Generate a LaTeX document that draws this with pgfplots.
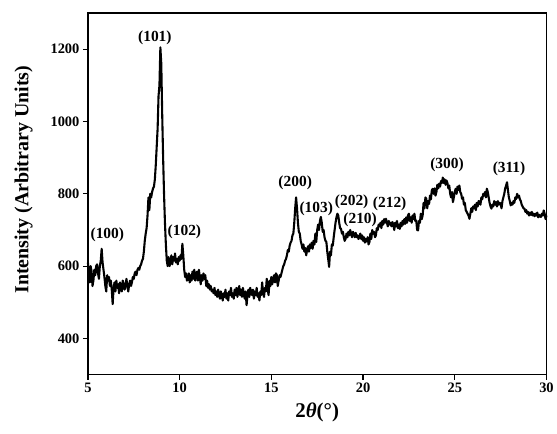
\documentclass[border=0pt]{standalone}
\usepackage{fontspec}
\setmainfont{Liberation Serif}
\usepackage{pgfplots}
\pgfplotsset{compat=1.18}
\pgfplotstableread{
x y
5.00 610
5.05 580
5.10 555
5.15 600
5.20 585
5.25 545
5.30 560
5.35 590
5.40 575
5.45 600
5.50 605
5.55 580
5.60 565
5.65 600
5.70 615
5.75 648
5.80 610
5.85 590
5.90 570
5.95 545
6.00 530
6.05 575
6.10 560
6.15 570
6.20 545
6.25 560
6.30 535
6.35 495
6.40 540
6.45 555
6.50 530
6.55 560
6.60 540
6.65 550
6.70 525
6.75 555
6.80 545
6.85 530
6.90 560
6.95 550
7.00 535
7.05 545
7.10 565
7.15 545
7.20 530
7.25 550
7.30 560
7.35 545
7.40 555
7.45 570
7.50 565
7.55 580
7.60 585
7.65 575
7.70 590
7.75 595
7.80 590
7.85 600
7.90 605
7.95 615
8.00 620
8.05 640
8.10 670
8.15 690
8.20 705
8.25 740
8.30 790
8.35 755
8.40 800
8.45 790
8.50 805
8.55 815
8.60 820
8.65 840
8.70 880
8.75 930
8.80 980
8.85 1070
8.90 1100
8.95 1205
9.00 1160
9.05 1020
9.10 900
9.15 800
9.20 720
9.25 660
9.30 615
9.35 600
9.40 625
9.45 600
9.50 610
9.55 630
9.60 605
9.65 625
9.70 615
9.75 635
9.80 610
9.85 620
9.90 605
9.95 625
10.00 615
10.05 630
10.10 620
10.15 662
10.20 630
10.25 590
10.30 570
10.35 580
10.40 560
10.45 566
10.50 580
10.55 555
10.60 575
10.65 560
10.70 585
10.75 565
10.80 590
10.85 560
10.90 575
10.95 585
11.00 560
11.05 590
11.10 570
11.15 550
11.20 575
11.25 560
11.30 580
11.35 565
11.40 575
11.45 545
11.50 560
11.55 540
11.60 550
11.65 535
11.70 545
11.75 530
11.80 535
11.85 525
11.90 540
11.95 520
12.00 530
12.05 515
12.10 535
12.15 520
12.20 510
12.25 530
12.30 520
12.35 505
12.40 525
12.45 515
12.50 535
12.55 510
12.60 525
12.65 505
12.70 530
12.75 520
12.80 540
12.85 515
12.90 525
12.95 510
13.00 535
13.05 520
13.10 540
13.15 515
13.20 530
13.25 545
13.30 520
13.35 535
13.40 515
13.45 540
13.50 525
13.55 510
13.60 530
13.65 492
13.70 520
13.75 535
13.80 515
13.85 540
13.90 525
13.95 520
14.00 535
14.05 510
14.10 530
14.15 520
14.20 540
14.25 515
14.30 525
14.35 505
14.40 530
14.45 520
14.50 555
14.55 525
14.60 515
14.65 540
14.70 530
14.75 565
14.80 535
14.85 520
14.90 560
14.95 545
15.00 570
15.05 550
15.10 565
15.15 575
15.20 555
15.25 580
15.30 575
15.35 545
15.40 560
15.45 575
15.50 570
15.55 580
15.60 590
15.65 600
15.70 605
15.75 615
15.80 620
15.85 630
15.90 645
15.95 640
16.00 657
16.05 665
16.10 670
16.15 685
16.20 690
16.25 720
16.30 760
16.35 790
16.40 760
16.45 720
16.50 695
16.55 690
16.60 670
16.65 660
16.70 648
16.75 660
16.80 640
16.85 650
16.90 630
16.95 645
17.00 655
17.05 640
17.10 660
17.15 650
17.20 665
17.25 648
17.30 670
17.35 660
17.40 690
17.45 667
17.50 700
17.55 715
17.60 700
17.65 725
17.70 736
17.75 720
17.80 695
17.85 700
17.90 680
17.95 670
18.00 667
18.05 640
18.10 620
18.15 598
18.20 640
18.25 630
18.30 660
18.35 657
18.40 680
18.45 700
18.50 720
18.55 735
18.60 745
18.65 740
18.70 720
18.75 705
18.80 703
18.85 690
18.90 695
18.95 680
19.00 670
19.05 676
19.10 690
19.15 680
19.20 695
19.25 685
19.30 700
19.35 690
19.40 680
19.45 695
19.50 690
19.55 680
19.60 692
19.65 680
19.70 685
19.75 675
19.80 681
19.85 690
19.90 675
19.95 685
20.00 670
20.05 680
20.10 665
20.15 675
20.20 668
20.25 680
20.30 660
20.35 667
20.40 690
20.45 675
20.50 700
20.55 690
20.60 695
20.65 680
20.70 685
20.75 705
20.80 700
20.85 715
20.90 710
20.95 720
21.00 705
21.05 725
21.10 715
21.15 730
21.20 720
21.25 731
21.30 720
21.35 710
21.40 725
21.45 715
21.50 720
21.55 710
21.60 722
21.65 715
21.70 700
21.75 720
21.80 710
21.85 725
21.90 705
21.95 715
22.00 703
22.05 720
22.10 710
22.15 725
22.20 715
22.25 730
22.30 717
22.35 735
22.40 720
22.45 740
22.50 745
22.55 725
22.60 735
22.65 720
22.70 740
22.75 730
22.80 745
22.85 725
22.90 726
22.95 700
23.00 699
23.05 725
23.10 720
23.15 745
23.20 730
23.25 740
23.30 775
23.35 760
23.40 790
23.45 786
23.50 760
23.55 780
23.60 772
23.65 795
23.70 785
23.75 810
23.80 814
23.85 800
23.90 815
23.95 795
24.00 805
24.05 825
24.10 815
24.15 828
24.20 820
24.25 835
24.30 830
24.35 845
24.40 830
24.45 840
24.50 825
24.55 837
24.60 830
24.65 815
24.70 823
24.75 800
24.80 790
24.85 805
24.90 777
24.95 790
25.00 805
25.05 814
25.10 800
25.15 820
25.20 810
25.25 823
25.30 805
25.35 800
25.40 786
25.45 790
25.50 770
25.55 775
25.60 755
25.65 750
25.70 745
25.75 740
25.80 731
25.85 745
25.90 760
25.95 750
26.00 765
26.05 760
26.10 770
26.15 755
26.20 775
26.25 765
26.30 780
26.35 777
26.40 770
26.45 790
26.50 785
26.55 800
26.60 795
26.65 805
26.70 790
26.75 814
26.80 805
26.85 790
26.90 775
26.95 765
27.00 759
27.05 770
27.10 765
27.15 780
27.20 770
27.25 777
27.30 765
27.35 780
27.40 770
27.45 775
27.50 772
27.55 760
27.60 780
27.65 790
27.70 800
27.75 815
27.80 823
27.85 832
27.90 810
27.95 790
28.00 780
28.05 768
28.10 775
28.15 770
28.20 780
28.25 775
28.30 790
28.35 786
28.40 800
28.45 790
28.50 795
28.55 785
28.60 780
28.65 770
28.70 765
28.75 760
28.80 759
28.85 750
28.90 755
28.95 745
29.00 750
29.05 740
29.10 748
29.15 742
29.20 750
29.25 740
29.30 745
29.35 738
29.40 745
29.45 740
29.50 748
29.55 735
29.60 742
29.65 738
29.70 736
29.75 745
29.80 740
29.85 754
29.90 745
29.95 730
30.00 740
}\xrd
\begin{document}
\begin{tikzpicture}[lab/.style={font=\fontsize{15.5}{18}\selectfont\bfseries, inner sep=0pt}]
\begin{axis}[name=ax, scale only axis, width=459bp, height=362bp,
  xmin=5, xmax=30, ymin=300, ymax=1300,
  xtick={5,10,...,30}, ytick={400,600,...,1200},
  tick align=outside, tick pos=left, major tick length=5bp,
  axis line style={line width=1.6pt},
  every tick/.style={line width=1.2pt, black},
  /pgf/number format/assume math mode=true,
  /pgf/number format/1000 sep={},
  tick label style={font=\fontsize{14.5}{17}\selectfont\bfseries},
  xlabel={\bfseries 2\textit{θ}(°)},
  ylabel={\bfseries Intensity (Arbitrary Units)},
  xlabel style={font=\fontsize{21}{24}\selectfont, yshift=-3bp},
  ylabel style={font=\fontsize{20}{23}\selectfont, yshift=11bp, xshift=14bp},
  clip=false,
]
\addplot[black, line width=2.1pt, line join=round] table[x=x,y=y] {\xrd};
\node[lab] at (axis cs:6.06,688) {(100)};
\node[lab] at (axis cs:8.65,1232) {(101)};
\node[lab] at (axis cs:10.26,694) {(102)};
\node[lab] at (axis cs:16.30,830) {(200)};
\node[lab] at (axis cs:17.45,759) {(103)};
\node[lab] at (axis cs:19.38,777) {(202)};
\node[lab] at (axis cs:19.84,728) {(210)};
\node[lab] at (axis cs:21.45,772) {(212)};
\node[lab] at (axis cs:24.58,879) {(300)};
\node[lab] at (axis cs:27.96,869) {(311)};
\end{axis}
\path ([shift={(-88bp,-59bp)}]ax.south west) rectangle ([shift={(10bp,13bp)}]ax.north east);
\end{tikzpicture}
\end{document}
